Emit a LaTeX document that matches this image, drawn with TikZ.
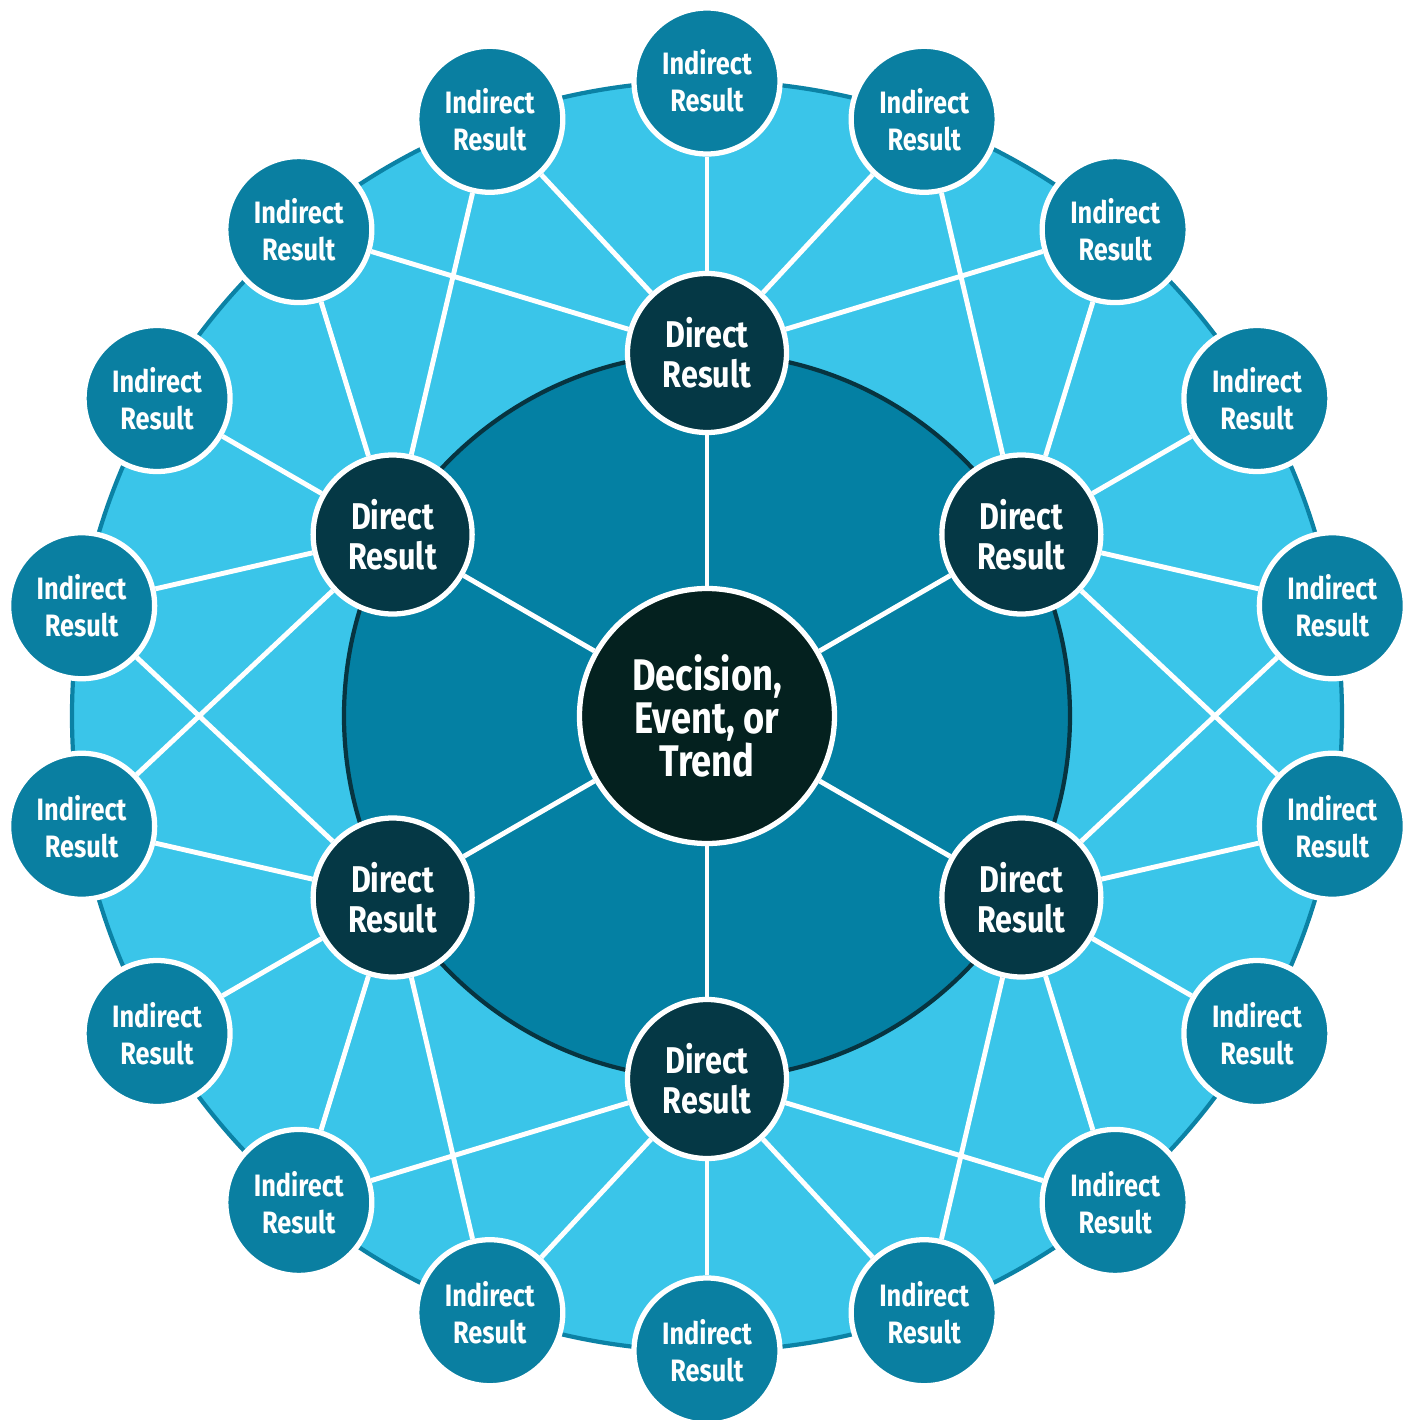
\documentclass[tikz,border=0pt]{standalone}
\usepackage{fontspec}
\setmainfont{Fira Sans}[FakeStretch=0.82]
\definecolor{skyfill}{HTML}{3AC5E9}
\definecolor{ringline}{HTML}{0B82A5}
\definecolor{innerfill}{HTML}{0480A3}
\definecolor{innerline}{HTML}{073440}
\definecolor{indfill}{HTML}{0A7FA1}
\definecolor{dirfill}{HTML}{053845}
\definecolor{corefill}{HTML}{04211F}

\begin{document}
\begin{tikzpicture}[
    result/.style ={circle, draw=white, line width=1.5pt, inner sep=0pt, align=center, text=white},
    indirect/.style ={result, fill=indfill, minimum size=14.6mm, font=\fontsize{8.8}{10.5}\selectfont\bfseries},
    direct/.style ={result, fill=dirfill, minimum size=15.9mm, font=\fontsize{10.6}{11.4}\selectfont\bfseries},
    core/.style ={result, fill=corefill, minimum size=25.5mm, font=\fontsize{12.6}{12.3}\selectfont\bfseries},
    link/.style ={white, line width=1.4pt}]
   \useasboundingbox (-7.07,-7.04) rectangle (7.07,7.16);
   \draw[ringline, fill=skyfill, line width=1.2pt] (0,0) circle (6.35);
   \draw[innerline, fill=innerfill, line width=1.2pt] (0,0) circle (3.63);
   \node[core] (event) at (0,0) {Decision,\\Event, or\\Trend};
   \foreach \j in {0,...,5}
     \node[direct] (dir\j) at (90-60*\j:3.63) {Direct\\Result};
   \foreach \k in {0,...,17}
     \node[indirect] (ind\k) at (90-20*\k:6.35) {Indirect\\Result};
   \foreach \j in {0,...,5} {
     \draw[link] (event) -- (dir\j);
     \foreach \d in {-2,...,2} {
       \pgfmathtruncatemacro\k{mod(3*\j+\d+18,18)}
       \draw[link] (dir\j) -- (ind\k);
     }
   }
\end{tikzpicture}
\end{document}
